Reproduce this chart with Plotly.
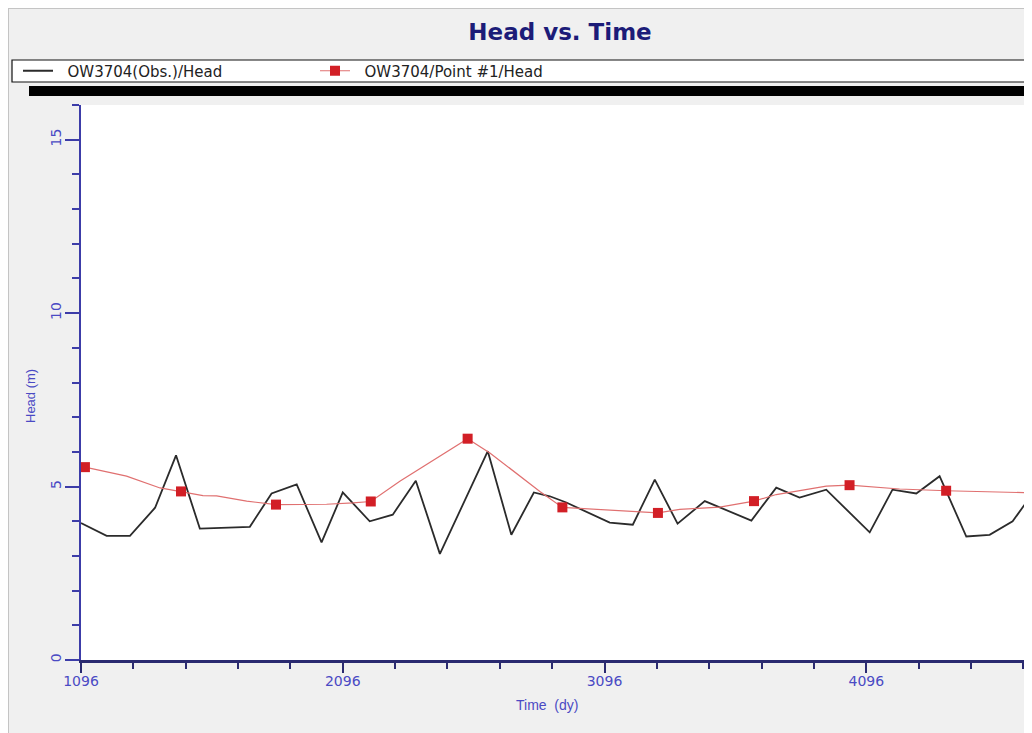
import plotly.graph_objects as go

# ---------------- data ----------------
obs_time = [1096, 1194, 1283, 1379, 1459, 1550, 1741, 1824, 1920, 2015, 2096, 2199,
            2287, 2375, 2467, 2650, 2740, 2826, 2887, 2950, 3116, 3204, 3288, 3375,
            3479, 3657, 3752, 3841, 3943, 4109, 4196, 4287, 4376, 4478, 4567, 4655, 4726]
obs_head = [3.95, 3.58, 3.58, 4.39, 5.90, 3.79, 3.84, 4.80, 5.06, 3.39, 4.83, 4.00,
            4.19, 5.17, 3.06, 6.02, 3.61, 4.83, 4.72, 4.54, 3.96, 3.90, 5.20, 3.93,
            4.58, 4.02, 4.97, 4.68, 4.91, 3.68, 4.91, 4.80, 5.30, 3.56, 3.61, 4.00, 4.74]

sim_time = [1111, 1207, 1270, 1398, 1478, 1562, 1614, 1729, 1841, 2034, 2135, 2203,
            2314, 2573, 2658, 2849, 2935, 3065, 3218, 3300, 3383, 3536, 3667, 3752,
            3943, 4032, 4223, 4401, 4726]
sim_head = [5.56, 5.40, 5.30, 4.96, 4.86, 4.74, 4.73, 4.58, 4.48, 4.49, 4.53, 4.57,
            5.15, 6.38, 5.97, 4.86, 4.40, 4.34, 4.29, 4.24, 4.34, 4.41, 4.58, 4.77,
            5.01, 5.04, 4.93, 4.88, 4.82]

marker_time = [1111, 1478, 1841, 2203, 2573, 2935, 3300, 3667, 4032, 4401]
marker_head = [5.56, 4.86, 4.48, 4.57, 6.38, 4.40, 4.24, 4.58, 5.04, 4.88]

x_tickvals = [1096, 2096, 3096, 4096]
x_ticktext = ["1096", "2096", "3096", "4096"]
x_range = [1096, 4729]
y_range = [0, 16]

obs_name = "OW3704(Obs.)/Head"
sim_name = "OW3704/Point #1/Head"
title_text = "Head vs. Time"
x_title = "Time\u00a0 (dy)"
y_title = "Head (m)"

# ---------------- geometry (page pixels; the page has an 8px body margin) ----------------
OFF = 8
W, H = 1032 - OFF, 733 - OFF
PL, PR, PT, PB = 81, 1032, 105, 660          # plot area in page pixels
L, R, T, B = PL - OFF, (1032 - PR), PT - OFF, H - (PB - OFF)
PW, PH = W - L - R, H - T - B


def px_x(p):  # page x -> paper x
    return (p - PL) / PW


def px_y(p):  # page y -> paper y
    return (PB - p) / PH


FONT = "Liberation Sans, Arial, sans-serif"
WIDE = "DejaVu Sans, Liberation Sans, Arial, sans-serif"
AXIS_BLUE = "#3c3ca8"
LABEL_BLUE = "#4a4ac4"
RED = "#d21f26"
SIM_LINE = "#e07070"
PAD = "\u00a0\u00a0"

fig = go.Figure()

fig.add_trace(go.Scatter(
    x=obs_time, y=obs_head, mode="lines", name=PAD + obs_name,
    line=dict(color="#2b2b2b", width=1.8),
))
fig.add_trace(go.Scatter(
    x=sim_time, y=sim_head, mode="lines", showlegend=False,
    line=dict(color=SIM_LINE, width=1.2), legendgroup="sim",
))
fig.add_trace(go.Scatter(
    x=marker_time, y=marker_head, mode="markers", showlegend=False,
    marker=dict(symbol="square", size=10, color=RED), legendgroup="sim",
))
fig.add_trace(go.Scatter(
    x=[None], y=[None], mode="lines+markers", name=PAD + sim_name,
    line=dict(color=SIM_LINE, width=1.2),
    marker=dict(symbol="square", size=10, color=RED), legendgroup="sim",
))

shapes = [
    # thin grey border of the panel (top / left)
    dict(type="line", xref="paper", yref="paper", x0=px_x(OFF), x1=px_x(1040),
         y0=px_y(OFF + 0.5), y1=px_y(OFF + 0.5), line=dict(color="#c4c4c4", width=1)),
    dict(type="line", xref="paper", yref="paper", x0=px_x(OFF + 0.5), x1=px_x(OFF + 0.5),
         y0=px_y(OFF), y1=px_y(740), line=dict(color="#c4c4c4", width=1)),
    # legend box
    dict(type="rect", xref="paper", yref="paper", x0=px_x(12), x1=px_x(1028),
         y0=px_y(82), y1=px_y(60), fillcolor="white",
         line=dict(color="#111111", width=1.2), layer="below"),
    # black shadow bar under legend
    dict(type="rect", xref="paper", yref="paper", x0=px_x(29), x1=px_x(1045),
         y0=px_y(96), y1=px_y(86), fillcolor="black", line=dict(width=0), layer="below"),
]

annotations = [
    dict(text=x_title, xref="paper", yref="paper", x=px_x(547), y=px_y(705),
         xanchor="center", yanchor="middle", showarrow=False,
         font=dict(family=FONT, size=14, color=LABEL_BLUE)),
    dict(text=y_title, xref="paper", yref="paper", x=px_x(30), y=px_y(396),
         xanchor="center", yanchor="middle", showarrow=False, textangle=-90,
         font=dict(family=FONT, size=13, color=LABEL_BLUE)),
]

fig.update_layout(
    width=W, height=H,
    margin=dict(l=L, r=R, t=T, b=B, pad=0),
    paper_bgcolor="#f0f0f0",
    plot_bgcolor="white",
    font=dict(family=FONT, size=12, color="#222222"),
    title=dict(
        text="<b>" + title_text + "</b>", x=px_x(560), xref="paper", xanchor="center",
        y=1 - (32 - OFF) / H, yref="container", yanchor="middle",
        font=dict(family=WIDE, size=23, color="#1c1c78"),
    ),
    showlegend=True,
    legend=dict(
        orientation="h", x=px_x(18), xanchor="left", y=px_y(71), yanchor="middle",
        bgcolor="rgba(0,0,0,0)", borderwidth=0,
        font=dict(family=WIDE, size=15, color="#222222"),
        entrywidth=252, entrywidthmode="pixels", itemwidth=30,
    ),
    shapes=shapes,
    annotations=annotations,
    xaxis=dict(
        range=x_range, tickmode="array", tickvals=x_tickvals, ticktext=x_ticktext,
        ticks="outside", ticklen=10, tickwidth=1.5, tickcolor="#2a2a70",
        showline=True, linecolor="#2a2a70", linewidth=2.5,
        showgrid=False, zeroline=False, ticklabelstandoff=-4,
        tickfont=dict(family=WIDE, size=14, color=LABEL_BLUE),
        minor=dict(ticks="outside", ticklen=6, tickwidth=1.5, tickcolor="#2a2a70",
                   tickmode="linear", tick0=1096, dtick=200, showgrid=False),
    ),
    yaxis=dict(
        range=y_range, tick0=0, dtick=5, tickmode="linear", tickangle=-90,
        ticks="outside", ticklen=14, tickwidth=1.5, tickcolor=AXIS_BLUE,
        showline=True, linecolor=AXIS_BLUE, linewidth=2,
        showgrid=False, zeroline=False, ticklabelstandoff=-2,
        tickfont=dict(family=WIDE, size=14, color=LABEL_BLUE),
        minor=dict(ticks="outside", ticklen=7, tickwidth=1.5, tickcolor=AXIS_BLUE,
                   dtick=1, showgrid=False),
    ),
)

fig.write_html("out.html")
